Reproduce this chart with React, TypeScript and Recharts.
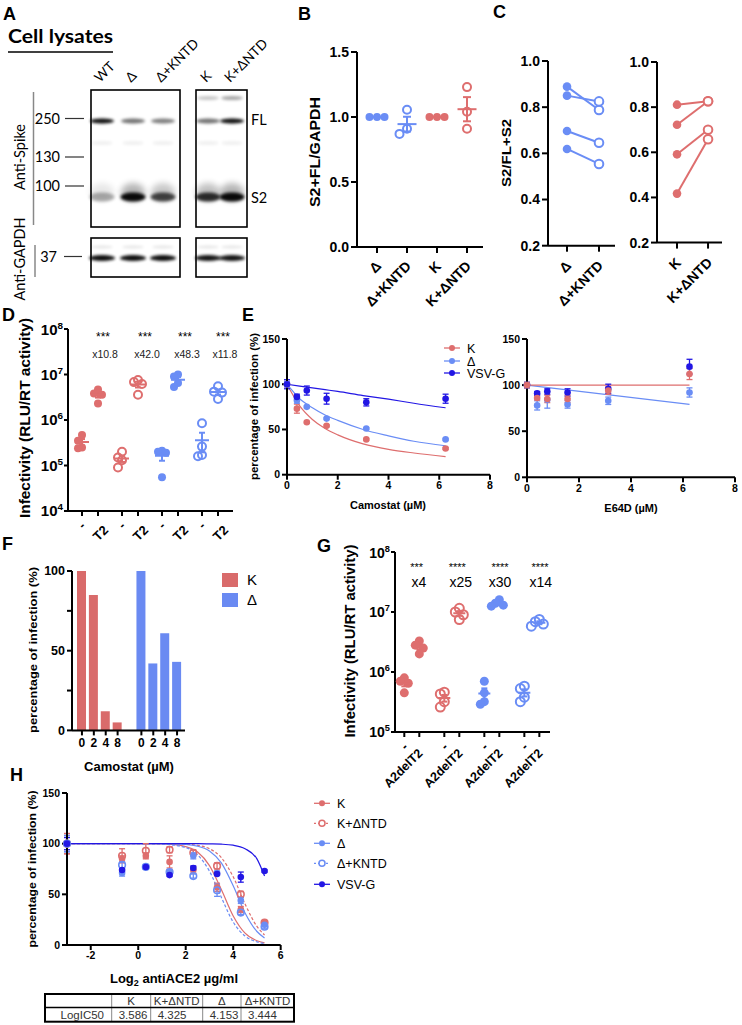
import React from 'react';
import {
  Bar, BarChart, Cell, ComposedChart, ErrorBar, Line, LineChart, Scatter, ScatterChart, XAxis, YAxis,
} from 'recharts';

const RED = '#DE6E6E';
const BLUE = '#6A8DF5';
const NAVY = '#2216E4';
const FONT = "'Liberation Sans', Arial, sans-serif";
const CAL = "Lato, 'Open Sans', sans-serif";

// B: S2+FL/GAPDH
const bGroups = ['Δ', 'Δ+KNTD', 'K', 'K+ΔNTD'];
const bDelta = [1, 1, 1];
const bDeltaKntd = [0.87, 1.056, 0.91];
const bK = [1, 1, 1];
const bKdNtd = [1.23, 1.04, 0.91];

// C: S2/FL+S2 paired
const cDeltaLabels = ['Δ', 'Δ+KNTD'];
const cDeltaBefore = [0.889, 0.85, 0.697, 0.619];
const cDeltaAfter = [0.788, 0.825, 0.646, 0.554];
const cKLabels = ['K', 'K+ΔNTD'];
const cKBefore = [0.811, 0.722, 0.591, 0.417];
const cKAfter = [0.826, 0.826, 0.7, 0.658];

// D: infectivity -/T2
const dConds = ['-', 'T2'];
const dKMinus = [4.7e5, 3.5e5, 2.5e5, 2.4e5];
const dKT2 = [4.7e6, 3.8e6, 3.6e6, 2.3e6];
const dKdMinus = [2.0e5, 1.5e5, 1.3e5, 9e4];
const dKdT2 = [7.6e6, 6.8e6, 6.2e6, 3.6e6];
const dDMinus = [2.1e5, 2.0e5, 1.9e5, 5.5e4];
const dDT2 = [1.0e7, 9e6, 6.5e6, 5.3e6];
const dDkMinus = [8.5e5, 2.6e5, 1.7e5, 1.6e5];
const dDkT2 = [5.5e6, 4.2e6, 4.0e6, 2.9e6];
const dStars = ['***', '***', '***', '***'];
const dFolds = ['x10.8', 'x42.0', 'x48.3', 'x11.8'];

// E: camostat / E64D
const eConc = [0, 0.39, 0.78, 1.56, 3.125, 6.25];
const eCamK = [100, 73, 58, 54, 39, 29];
const eCamKErr = [3, 5, 1, 1, 1, 1];
const eCamD = [100, 82, 75, 62, 51, 39];
const eCamDErr = [3, 3, 1, 1, 1, 1];
const eCamV = [100, 86, 93, 84, 80, 84];
const eCamVErr = [5, 3, 5, 6, 4, 5];
const eFitX = [0, 0.5, 1, 1.5, 2, 3, 4, 5, 6.25];
const eFitK = [100, 76, 61, 51, 44, 34, 28, 24, 20];
const eFitD = [100, 84, 74, 66, 60, 50, 43, 37, 32];
const eFitV = [100, 98, 96, 94, 92, 87.5, 83.5, 79, 74];
const eE64V = [100, 91, 93, 92, 96, 120];
const eE64VErr = [3, 2, 3, 4, 5, 8];
const eE64K = [100, 86, 85, 85, 94, 112];
const eE64KErr = [3, 2, 4, 4, 4, 6];
const eE64D = [100, 78, 84, 79, 83, 92];
const eE64DErr = [3, 5, 9, 4, 4, 5];
const eE64FitX = [0, 6.25];
const eE64FitK = [100, 100];
const eE64FitD = [100, 79];
const eLegend = ['K', 'Δ', 'VSV-G'];

// F: camostat bars
const fDoses = ['0', '2', '4', '8'];
const fK = [100, 85, 12, 5];
const fD = [100, 42, 61, 43];

// G: infectivity A2del/T2
const gConds = ['-', 'A2delT2'];
const gKMinus = [8.0e5, 7.0e5, 6.5e5, 4.5e5];
const gKT2 = [3.3e6, 2.8e6, 2.5e6, 2.0e6];
const gKdMinus = [4.6e5, 4.3e5, 3.2e5, 2.6e5];
const gKdT2 = [1.15e7, 1.0e7, 9.0e6, 7.5e6];
const gDMinus = [7e5, 4.5e5, 3.2e5, 2.9e5];
const gDT2 = [1.6e7, 1.4e7, 1.3e7, 1.25e7];
const gDkMinus = [5.8e5, 5.3e5, 3.8e5, 3.2e5];
const gDkT2 = [7.5e6, 6.9e6, 6.3e6, 5.8e6];
const gStars = ['***', '****', '****', '****'];
const gFolds = ['x4', 'x25', 'x30', 'x14'];

// H: antiACE2 titration
const hX = [-3, -0.68, 0.32, 1.32, 2.32, 3.32, 4.32, 5.32];
const hK = [100, 85, 88, 82, 74, 57, 35, 22];
const hErrK = [10, 3, 3, 6, 3, 4, 3, 2];
const hKd = [100, 88, 93, 94, 91, 78, 50, 22];
const hErrKd = [10, 7, 7, 3, 3, 3, 3, 2];
const hD = [100, 71, 77, 72, 88, 71, 44, 20];
const hErrD = [8, 3, 2, 2, 3, 2, 3, 2];
const hDk = [100, 79, 77, 72, 68, 54, 32, 18];
const hErrDk = [8, 3, 2, 2, 2, 6, 2, 2];
const hV = [100, 74, 77, 69, 76, 70, 67, 73];
const hErrV = [6, 2, 2, 1, 2, 1, 5, 1];
const hFitX = [-3, 0, 1, 2, 2.5, 3, 3.5, 4, 4.5, 5, 5.32];
const hFitK = [100, 100, 99.7, 97.1, 91.7, 78.4, 54.8, 28.7, 11.7, 4.2, 2.1];
const hFitKd = [100, 100, 100, 99.4, 98.3, 95.0, 86.2, 67.3, 40.4, 18.3, 9.9];
const hFitD = [100, 100, 99.9, 99.2, 97.5, 92.8, 81.0, 58.4, 31.6, 13.3, 7.0];
const hFitDk = [100, 100, 99.6, 96.1, 89.0, 72.8, 47.0, 22.6, 8.8, 3.1, 1.5];
const hFitV = [100, 100, 100, 100, 100, 99.8, 99.5, 98.5, 95, 85, 68];
const hNames = ['K', 'K+ΔNTD', 'Δ', 'Δ+KNTD', 'VSV-G'];
const hLogIC50 = ['3.586', '4.325', '4.153', '3.444'];

// A: blot band intensities per lane (WT, Δ, Δ+KNTD, K, K+ΔNTD)
const blotLanes = ['WT', 'Δ', 'Δ+KNTD', 'K', 'K+ΔNTD'];
const blotTop = [0, 0, 0, 0.22, 0.35];
const blotFL = [0.95, 0.55, 0.5, 0.55, 0.95];
const blotS2 = [0.3, 0.95, 0.7, 0.8, 0.95];
const blotGapdh = [0.95, 0.95, 0.95, 0.92, 0.92];

type Fr = { x0: number; y0: number; x1: number; y1: number; ml: number; mt: number; mr: number; mb: number };
const dims = (f: Fr) => ({ w: f.x1 - f.x0 + f.ml + f.mr, h: f.y1 - f.y0 + f.mt + f.mb });
const place = (f: Fr): React.CSSProperties => ({ position: 'absolute', left: f.x0 - f.ml, top: f.y0 - f.mt });
const marg = (f: Fr) => ({ top: f.mt, right: f.mr, left: 0, bottom: 0 });
const axisY = (f: Fr) => f.mt + f.y1 - f.y0;
const AX = { stroke: '#000', strokeWidth: 2 };
const tk = (fs: number) => ({ fill: '#000', fontSize: fs, fontWeight: 700, fontFamily: FONT });

const mean = (a: number[]) => a.reduce((s, v) => s + v, 0) / a.length;
const sem = (a: number[]) => {
  const m = mean(a);
  return Math.sqrt(a.reduce((s, v) => s + (v - m) ** 2, 0) / (a.length - 1)) / Math.sqrt(a.length);
};

// horizontal offsets so that overlapping replicate points sit side by side
function spread(values: number[], unit: (v: number) => number, thr: number, step: number) {
  const order = values.map((_, i) => i).sort((a, b) => values[b] - values[a]);
  const dx = values.map(() => 0);
  const done: number[] = [];
  for (const i of order) {
    const u = unit(values[i]);
    const cands = [0, -step, step, -2 * step, 2 * step];
    let pick = cands[cands.length - 1];
    for (const c of cands) {
      if (done.every((j) => Math.abs(unit(values[j]) - u) >= thr || Math.abs(dx[j] - c) >= step * 0.9)) {
        pick = c;
        break;
      }
    }
    dx[i] = pick;
    done.push(i);
  }
  return dx;
}

const dotShape = (r: number, sw: number) => (p: any) => {
  const d = p.payload;
  const cx = p.cx + (d.dx || 0);
  return d.open
    ? <circle cx={cx} cy={p.cy} r={r} fill="none" stroke={d.color} strokeWidth={sw} />
    : <circle cx={cx} cy={p.cy} r={r} fill={d.color} />;
};
const meanShape = (hw: number) => (p: any) => (
  <line x1={p.cx - hw} x2={p.cx + hw} y1={p.cy} y2={p.cy} stroke={p.payload.color} strokeWidth={2} />
);

const rotTick = (f: Fr, fs: number, ox: number, oy: number, labelOf: (v: number) => string) => (p: any) => {
  const lab = labelOf(p.payload.value);
  const ay = axisY(f);
  if (lab === '-') {
    return (
      <text transform={`translate(${p.x + 2.8},${ay + 17.3}) rotate(-45)`} textAnchor="middle"
        fontSize={fs} fontWeight={700} fontFamily={FONT} fill="#000">-</text>
    );
  }
  return (
    <text transform={`translate(${p.x + ox},${ay + oy}) rotate(-45)`} textAnchor="end"
      fontSize={fs} fontWeight={700} fontFamily={FONT} fill="#000">{lab}</text>
  );
};

const powTick = (fs: number) => (p: any) => {
  const e = Math.round(Math.log10(p.payload.value));
  return (
    <text x={p.x} y={p.y} dy="0.36em" textAnchor="end" fontSize={fs} fontWeight={700} fontFamily={FONT} fill="#000">
      10<tspan dy={-fs * 0.42} fontSize={fs * 0.66}>{e}</tspan>
    </text>
  );
};

// ---------- B ----------
const FB: Fr = { x0: 357, y0: 51.7, x1: 483, y1: 246.7, ml: 48, mt: 8, mr: 8, mb: 66 };
const bSeries = [
  { values: bDelta, color: BLUE, open: false },
  { values: bDeltaKntd, color: BLUE, open: true },
  { values: bK, color: RED, open: false },
  { values: bKdNtd, color: RED, open: true },
];
function PanelB() {
  const { w, h } = dims(FB);
  return (
    <div style={place(FB)}>
      <ScatterChart width={w} height={h} margin={marg(FB)}>
        <XAxis type="number" dataKey="x" domain={[-0.667, 3.533]} ticks={[0, 1, 2, 3]} height={FB.mb}
          axisLine={AX} tickLine={AX} tickSize={6} interval={0}
          tick={rotTick(FB, 14, 5, 20, (v) => bGroups[v])} />
        <YAxis type="number" dataKey="y" domain={[0, 1.5]} ticks={[0, 0.5, 1, 1.5]} width={FB.ml}
          axisLine={AX} tickLine={AX} tickSize={6} tick={tk(14)} tickFormatter={(v: number) => v.toFixed(1)} />
        {bSeries.map((s, i) => {
          const dx = spread(s.values, (v) => v, 0.06, 7.5);
          return (
            <Scatter key={'p' + i} isAnimationActive={false} shape={dotShape(4, 2)}
              data={s.values.map((y, j) => ({ x: i, y, dx: dx[j], color: s.color, open: s.open }))} />
          );
        })}
        {bSeries.map((s, i) => (
          <Scatter key={'m' + i} isAnimationActive={false} shape={meanShape(9.5)}
            data={[{ x: i, y: mean(s.values), sem: sem(s.values), color: s.color }]}>
            <ErrorBar dataKey="sem" direction="y" width={4} stroke={s.color} strokeWidth={2} />
          </Scatter>
        ))}
      </ScatterChart>
    </div>
  );
}

// ---------- C ----------
const FC1: Fr = { x0: 548, y0: 61, x1: 615, y1: 245.7, ml: 42, mt: 8, mr: 8, mb: 70 };
const FC2: Fr = { x0: 657, y0: 61.7, x1: 722, y1: 242.3, ml: 42, mt: 8, mr: 10, mb: 70 };
const pairDot = (color: string) => (p: any) => (
  p.index === 0
    ? <circle key={`d${p.index}`} cx={p.cx} cy={p.cy} r={4.3} fill={color} />
    : <circle key={`d${p.index}`} cx={p.cx} cy={p.cy} r={4.3} fill="#fff" stroke={color} strokeWidth={2} />
);
function PairPanel({ f, before, after, labels, color, domain }: any) {
  const { w, h } = dims(f);
  return (
    <div style={place(f)}>
      <LineChart width={w} height={h} margin={marg(f)}>
        <XAxis type="number" dataKey="x" domain={domain} ticks={[0, 1]} height={f.mb} interval={0}
          axisLine={AX} tickLine={AX} tickSize={6} tick={rotTick(f, 14, 5, 21, (v) => labels[v])} />
        <YAxis type="number" domain={[0.2, 1]} ticks={[0.2, 0.4, 0.6, 0.8, 1.0]} width={f.ml}
          axisLine={AX} tickLine={AX} tickSize={6} tick={tk(14)} tickFormatter={(v: number) => v.toFixed(1)} />
        {before.map((b: number, i: number) => (
          <Line key={i} data={[{ x: 0, y: b }, { x: 1, y: after[i] }]} dataKey="y" stroke={color}
            strokeWidth={2} dot={pairDot(color)} isAnimationActive={false} />
        ))}
      </LineChart>
    </div>
  );
}

// ---------- D / G (log dot plots) ----------
function LogDots({ f, sets, pos, domain, yDomain, yTicks, r, thr, step, hw, fs, yfs, labels, lox, loy }: any) {
  const { w, h } = dims(f);
  return (
    <div style={place(f)}>
      <ScatterChart width={w} height={h} margin={marg(f)}>
        <XAxis type="number" dataKey="x" domain={domain} ticks={pos} height={f.mb} interval={0}
          axisLine={AX} tickLine={AX} tickSize={5}
          tick={rotTick(f, fs, lox, loy, (v) => labels[pos.indexOf(v) % 2])} />
        <YAxis type="number" dataKey="y" scale="log" domain={yDomain} ticks={yTicks} allowDataOverflow
          width={f.ml} axisLine={AX} tickLine={AX} tickSize={4} tickMargin={1} tick={powTick(yfs)} />
        {sets.map((s: any, i: number) => {
          const dx = spread(s.values, (v) => Math.log10(v), thr, step);
          return (
            <Scatter key={'p' + i} isAnimationActive={false} shape={dotShape(r, 2)}
              data={s.values.map((y: number, j: number) => ({ x: pos[i], y, dx: dx[j], color: s.color, open: s.open }))} />
          );
        })}
        {sets.map((s: any, i: number) => (
          <Scatter key={'m' + i} isAnimationActive={false} shape={meanShape(hw)}
            data={[{ x: pos[i], y: mean(s.values), sem: sem(s.values), color: s.color }]}>
            <ErrorBar dataKey="sem" direction="y" width={3} stroke={s.color} strokeWidth={2} />
          </Scatter>
        ))}
      </ScatterChart>
    </div>
  );
}
const FD: Fr = { x0: 68, y0: 329, x1: 233, y1: 511, ml: 48, mt: 8, mr: 6, mb: 40 };
const dSets = [
  { values: dKMinus, color: RED, open: false }, { values: dKT2, color: RED, open: false },
  { values: dKdMinus, color: RED, open: true }, { values: dKdT2, color: RED, open: true },
  { values: dDMinus, color: BLUE, open: false }, { values: dDT2, color: BLUE, open: false },
  { values: dDkMinus, color: BLUE, open: true }, { values: dDkT2, color: BLUE, open: true },
];
const dPos = dSets.map((_, i) => Math.floor(i / 2) * 2.5 + (i % 2));
const FG: Fr = { x0: 395, y0: 551.5, x1: 550, y1: 731.5, ml: 44, mt: 8, mr: 8, mb: 66 };
const gSets = [
  { values: gKMinus, color: RED, open: false }, { values: gKT2, color: RED, open: false },
  { values: gKdMinus, color: RED, open: true }, { values: gKdT2, color: RED, open: true },
  { values: gDMinus, color: BLUE, open: false }, { values: gDT2, color: BLUE, open: false },
  { values: gDkMinus, color: BLUE, open: true }, { values: gDkT2, color: BLUE, open: true },
];
const gPos = gSets.map((_, i) => Math.floor(i / 2) * (8 / 3) + (i % 2));

// ---------- E ----------
const FE1: Fr = { x0: 287, y0: 339.3, x1: 490, y1: 475, ml: 30, mt: 8, mr: 8, mb: 22 };
const FE2: Fr = { x0: 527, y0: 339, x1: 735, y1: 477.3, ml: 30, mt: 8, mr: 6, mb: 22 };
const rows = (xs: number[], ys: number[], es?: number[], color?: string, open?: boolean) =>
  xs.map((x, i) => ({ x, y: ys[i], e: es ? es[i] : 0, color, open }));
function CurvePanel({ f, xDomain, xTicks, fits, pts, r }: any) {
  const { w, h } = dims(f);
  return (
    <div style={place(f)}>
      <ComposedChart width={w} height={h} margin={marg(f)}>
        <XAxis type="number" dataKey="x" domain={xDomain} ticks={xTicks} height={f.mb} interval={0}
          axisLine={AX} tickLine={AX} tickSize={5} tick={tk(10.5)} />
        <YAxis type="number" domain={[0, 150]} ticks={[0, 50, 100, 150]} width={f.ml}
          axisLine={AX} tickLine={AX} tickSize={5} tick={tk(10.5)} />
        {fits.map((s: any, i: number) => (
          <Line key={'f' + i} type="monotone" data={s.data} dataKey="y" stroke={s.color} strokeWidth={1.2}
            strokeDasharray={s.dash ? '3 2' : undefined} dot={false} isAnimationActive={false} />
        ))}
        {pts.map((s: any, i: number) => (
          <Scatter key={'s' + i} data={s.data} dataKey="y" isAnimationActive={false} shape={dotShape(r, 1.6)}>
            <ErrorBar dataKey="e" direction="y" width={3} stroke={s.color} strokeWidth={1.3} />
          </Scatter>
        ))}
      </ComposedChart>
    </div>
  );
}

// ---------- F ----------
const FF: Fr = { x0: 72, y0: 571.3, x1: 185, y1: 730.7, ml: 36, mt: 8, mr: 6, mb: 26 };
const fRows = [
  ...fDoses.map((d, i) => ({ key: 'K' + i, label: d, value: fK[i], color: '#D96B6B' })),
  { key: 'gap', label: '', value: 0, color: '#fff' },
  ...fDoses.map((d, i) => ({ key: 'D' + i, label: d, value: fD[i], color: '#6A8AF2' })),
];
function PanelF() {
  const { w, h } = dims(FF);
  const ay = axisY(FF);
  const fTick = (p: any) => {
    const row = fRows.find((r) => r.key === p.payload.value);
    if (!row || !row.label) return <g />;
    return (
      <g>
        <line x1={p.x} x2={p.x} y1={ay} y2={ay + 5} stroke="#000" strokeWidth={2} />
        <text x={p.x} y={ay + 17} textAnchor="middle" fontSize={12} fontWeight={700} fontFamily={FONT}>{row.label}</text>
      </g>
    );
  };
  return (
    <div style={place(FF)}>
      <BarChart width={w} height={h} margin={marg(FF)} data={fRows} barSize={9} barCategoryGap={0}>
        <XAxis dataKey="key" type="category" padding={{ left: 4, right: 2 }} height={FF.mb} interval={0}
          axisLine={AX} tickLine={false} tick={fTick} />
        <YAxis type="number" domain={[0, 100]} ticks={[0, 25, 50, 75, 100]} width={FF.ml}
          axisLine={AX} tickLine={AX} tickSize={5} tick={tk(12.5)}
          tickFormatter={(v: number) => (v % 50 === 0 ? String(v) : '')} />
        <Bar dataKey="value" isAnimationActive={false}>
          {fRows.map((r) => <Cell key={r.key} fill={r.color} />)}
        </Bar>
      </BarChart>
    </div>
  );
}

// ---------- H ----------
const FH: Fr = { x0: 67.3, y0: 793, x1: 281, y1: 945, ml: 30, mt: 8, mr: 8, mb: 22 };
const hSeries = [
  { values: hK, err: hErrK, fit: hFitK, color: RED, open: false, dash: false },
  { values: hKd, err: hErrKd, fit: hFitKd, color: RED, open: true, dash: true },
  { values: hD, err: hErrD, fit: hFitD, color: BLUE, open: false, dash: false },
  { values: hDk, err: hErrDk, fit: hFitDk, color: BLUE, open: true, dash: true },
  { values: hV, err: hErrV, fit: hFitV, color: NAVY, open: false, dash: false },
];

// ---------- overlay pieces ----------
const Txt = ({ x, y, s, b, a, children, fam, fill, len }: any) => (
  <text x={x} y={y} fontSize={s} fontWeight={b ? 700 : 400} textAnchor={a || 'start'} fontFamily={fam || FONT}
    fill={fill || '#000'} textLength={len} lengthAdjust={len ? 'spacingAndGlyphs' : undefined}>{children}</text>
);
const VTxt = ({ cx, cy, s, len, children }: any) => (
  <text transform={`translate(${cx},${cy}) rotate(-90)`} textAnchor="middle" dominantBaseline="central"
    fontSize={s} fontWeight={700} fontFamily={FONT} textLength={len} lengthAdjust="spacingAndGlyphs">{children}</text>
);

function Blot() {
  const lanesX = [102, 133, 163, 208, 232];
  const box1 = { x: 91, w: 89 };
  const box2 = { x: 196, w: 51 };
  return (
    <g>
      <defs>
        <filter id="bl" x="-50%" y="-100%" width="200%" height="300%"><feGaussianBlur stdDeviation="1.4" /></filter>
        <filter id="bl2" x="-50%" y="-100%" width="200%" height="300%"><feGaussianBlur stdDeviation="3" /></filter>
      </defs>
      <Txt x={8} y={43} s={19} b fam={CAL} len={105}>Cell lysates</Txt>
      <line x1={8} x2={113} y1={52} y2={52} stroke="#000" strokeWidth={1.6} />
      {blotLanes.map((l, i) => (
        <text key={l} transform={`translate(${lanesX[i] - 2},83) rotate(-45)`} fontSize={13.5} fontFamily={CAL}>{l}</text>
      ))}
      {[box1, box2].map((b, k) => (
        <g key={k}>
          <rect x={b.x} y={90} width={b.w} height={137} fill="#fff" />
          <rect x={b.x} y={238} width={b.w} height={39} fill="#fff" />
        </g>
      ))}
      {lanesX.map((x, i) => (
        <g key={i}>
          {blotTop[i] > 0 && <ellipse cx={x} cy={98} rx={11} ry={2} fill="#000" opacity={blotTop[i]} filter="url(#bl)" />}
          <ellipse cx={x} cy={121} rx={12} ry={2.6} fill="#000" opacity={blotFL[i]} filter="url(#bl)" />
          <ellipse cx={x} cy={143} rx={11} ry={2} fill="#000" opacity={0.06} filter="url(#bl)" />
          <ellipse cx={x} cy={192} rx={12} ry={9} fill="#000" opacity={blotS2[i] * 0.3} filter="url(#bl2)" />
          <ellipse cx={x} cy={197} rx={12.5} ry={4.5} fill="#000" opacity={blotS2[i]} filter="url(#bl)" />
          <ellipse cx={x} cy={247} rx={11} ry={1.5} fill="#000" opacity={0.1} filter="url(#bl)" />
          <ellipse cx={x} cy={258} rx={13} ry={3} fill="#000" opacity={blotGapdh[i]} filter="url(#bl)" />
        </g>
      ))}
      {[box1, box2].map((b, k) => (
        <g key={'o' + k} fill="none" stroke="#000" strokeWidth={1.6}>
          <rect x={b.x} y={90} width={b.w} height={137} />
          <rect x={b.x} y={238} width={b.w} height={39} />
        </g>
      ))}
      {[['250', 118.5], ['130', 157], ['100', 186]].map(([t, y]) => (
        <g key={t as string}>
          <Txt x={60} y={(y as number) + 5} s={14.5} a="end" fam={CAL}>{t}</Txt>
          <line x1={65} x2={84} y1={y as number} y2={y as number} stroke="#333" strokeWidth={1.2} />
        </g>
      ))}
      <Txt x={57} y={261.5} s={14.5} a="end" fam={CAL}>37</Txt>
      <line x1={64} x2={82} y1={256.5} y2={256.5} stroke="#333" strokeWidth={1.2} />
      <Txt x={251} y={125} s={14.5} fam={CAL}>FL</Txt>
      <Txt x={251} y={203} s={14.5} fam={CAL}>S2</Txt>
      <line x1={33.5} x2={33.5} y1={92} y2={225} stroke="#888" strokeWidth={1.5} />
      <line x1={35} x2={35} y1={245} y2={277} stroke="#888" strokeWidth={1.5} />
      <text transform="translate(19,157) rotate(-90)" textAnchor="middle" dominantBaseline="central" fontSize={14.5} fontFamily={CAL}>Anti-Spike</text>
      <text transform="translate(19,259) rotate(-90)" textAnchor="middle" dominantBaseline="central" fontSize={14.5} fontFamily={CAL}>Anti-GAPDH</text>
    </g>
  );
}

function LegendItem({ x, y, color, open, dash, label, s }: any) {
  return (
    <g>
      <line x1={x} x2={x + 16} y1={y} y2={y} stroke={color} strokeWidth={1.3} strokeDasharray={dash ? '2 2' : undefined} />
      {open
        ? <circle cx={x + 8} cy={y} r={3} fill="#fff" stroke={color} strokeWidth={1.5} />
        : <circle cx={x + 8} cy={y} r={3} fill={color} />}
      <Txt x={x + 23} y={y + 4.5} s={s}>{label}</Txt>
    </g>
  );
}

function Overlay() {
  const cols = [45, 111.7, 150.7, 202.7, 241, 294];
  return (
    <svg width={742} height={1025} style={{ position: 'absolute', left: 0, top: 0, pointerEvents: 'none' }}>
      <Blot />
      {[['A', 3, 20], ['B', 298, 20], ['C', 493, 18], ['D', 2, 321], ['E', 242, 321], ['F', 2, 550], ['G', 317, 552], ['H', 10, 781]].map(([l, x, y]) => (
        <Txt key={l as string} x={x} y={y} s={18} b>{l}</Txt>
      ))}
      <VTxt cx={314} cy={152} s={15} len={110}>S2+FL/GAPDH</VTxt>
      <VTxt cx={506} cy={153} s={13.5} len={68}>S2/FL+S2</VTxt>
      <VTxt cx={24.5} cy={418} s={15.5} len={200}>Infectivity (RLU/RT activity)</VTxt>
      <VTxt cx={254} cy={406.5} s={10.5} len={147}>percentage of infection (%)</VTxt>
      <VTxt cx={33} cy={650} s={11.5} len={166}>percentage of infection (%)</VTxt>
      <VTxt cx={350} cy={641} s={14.5} len={193}>Infectivity (RLU/RT activity)</VTxt>
      <VTxt cx={32} cy={869} s={11.5} len={157}>percentage of infection (%)</VTxt>
      <Txt x={388} y={509} s={11} b a="middle">Camostat (µM)</Txt>
      <Txt x={631} y={512} s={11} b a="middle">E64D (µM)</Txt>
      <Txt x={129} y={771} s={13} b a="middle">Camostat (µM)</Txt>
      <text x={174} y={983} fontSize={13} fontWeight={700} fontFamily={FONT} textAnchor="middle">
        Log<tspan dy={3} fontSize={9}>2</tspan><tspan dy={-3}> antiACE2 µg/ml</tspan>
      </text>
      {[103, 145, 185, 223].map((x, i) => (
        <g key={'d' + i}>
          <Txt x={x} y={341} s={12} a="middle">{dStars[i]}</Txt>
          <Txt x={x + 2} y={358} s={10.5} a="middle" fill="#222">{dFolds[i]}</Txt>
        </g>
      ))}
      {[416.7, 457.3, 500, 540].map((x, i) => (
        <g key={'g' + i}>
          <Txt x={x} y={571} s={11} a="middle">{gStars[i]}</Txt>
          <Txt x={[419, 460.7, 500, 540.7][i]} y={587} s={14} a="middle">{gFolds[i]}</Txt>
        </g>
      ))}
      {eLegend.map((l, i) => (
        <LegendItem key={l} x={444} y={[348, 361, 373][i]} color={[RED, BLUE, NAVY][i]} label={l} s={12.5} />
      ))}
      <rect x={222} y={573} width={16} height={14} fill="#D96B6B" />
      <rect x={222} y={593} width={16} height={14} fill="#6A8AF2" />
      <Txt x={247} y={585} s={15}>K</Txt>
      <Txt x={247} y={605} s={15}>Δ</Txt>
      {hNames.map((n, i) => (
        <LegendItem key={n} x={314} y={[803.3, 823.3, 843.3, 863.3, 884.3][i]} color={hSeries[i].color}
          open={hSeries[i].open} dash={hSeries[i].dash} label={n} s={12.5} />
      ))}
      <g>
        {cols.slice(1, 5).map((x) => <line key={x} x1={x} x2={x} y1={994} y2={1021.7} stroke="#888" strokeWidth={1} />)}
        <line x1={45} x2={294} y1={1007.5} y2={1007.5} stroke="#000" strokeWidth={1.5} />
        <rect x={45} y={994} width={249} height={27.7} fill="none" stroke="#000" strokeWidth={2} />
        {hNames.slice(0, 4).map((n, i) => (
          <Txt key={n} x={(cols[i + 1] + cols[i + 2]) / 2} y={1005} s={11.5} a="middle" fill="#333">{n}</Txt>
        ))}
        <Txt x={104} y={1018.5} s={11.5} a="end" fill="#333">LogIC50</Txt>
        {hLogIC50.map((v, i) => (
          <Txt key={v} x={cols[i + 1] + 7} y={1018.5} s={11.5} fill="#333">{v}</Txt>
        ))}
      </g>
    </svg>
  );
}

export default function App() {
  const curve = (xs: number[], ys: number[], color: string, dash = false) => ({ data: rows(xs, ys), color, dash });
  const pts = (xs: number[], ys: number[], es: number[], color: string, open = false) => ({ data: rows(xs, ys, es, color, open), color });
  return (
    <div style={{ position: 'absolute', left: 0, top: 0, width: 742, height: 1025, background: '#fff', fontFamily: FONT }}>
      <PanelB />
      <PairPanel f={FC1} before={cDeltaBefore} after={cDeltaAfter} labels={cDeltaLabels} color={BLUE} domain={[-0.594, 1.5]} />
      <PairPanel f={FC2} before={cKBefore} after={cKAfter} labels={cKLabels} color={RED} domain={[-0.645, 1.45]} />
      <LogDots f={FD} sets={dSets} pos={dPos} domain={[-0.875, 9.4375]} yDomain={[1e4, 1e8]}
        yTicks={[1e4, 1e5, 1e6, 1e7, 1e8]} r={4} thr={0.16} step={4} hw={7} fs={13} yfs={15}
        labels={dConds} lox={11} loy={20} />
      <CurvePanel f={FE1} xDomain={[0, 8]} xTicks={[0, 2, 4, 6, 8]} r={3.3}
        fits={[curve(eFitX, eFitK, RED), curve(eFitX, eFitD, BLUE), curve(eFitX, eFitV, NAVY)]}
        pts={[pts(eConc, eCamK, eCamKErr, RED), pts(eConc, eCamD, eCamDErr, BLUE), pts(eConc, eCamV, eCamVErr, NAVY)]} />
      <CurvePanel f={FE2} xDomain={[0, 8]} xTicks={[0, 2, 4, 6, 8]} r={3.3}
        fits={[curve(eE64FitX, eE64FitD, BLUE), curve(eE64FitX, eE64FitK, RED)]}
        pts={[pts(eConc, eE64V, eE64VErr, NAVY), pts(eConc, eE64D, eE64DErr, BLUE), pts(eConc, eE64K, eE64KErr, RED)]} />
      <PanelF />
      <LogDots f={FG} sets={gSets} pos={gPos} domain={[-0.62, 9.71]} yDomain={[1e5, 1e8]}
        yTicks={[1e5, 1e6, 1e7, 1e8]} r={4.5} thr={0.14} step={4} hw={6} fs={12.5} yfs={14}
        labels={gConds} lox={4} loy={22} />
      <CurvePanel f={FH} xDomain={[-3, 6]} xTicks={[-2, 0, 2, 4, 6]} r={3.3}
        fits={hSeries.map((s) => curve(hFitX, s.fit, s.color, s.dash))}
        pts={hSeries.map((s) => pts(hX, s.values, s.err, s.color, s.open))} />
      <Overlay />
    </div>
  );
}
